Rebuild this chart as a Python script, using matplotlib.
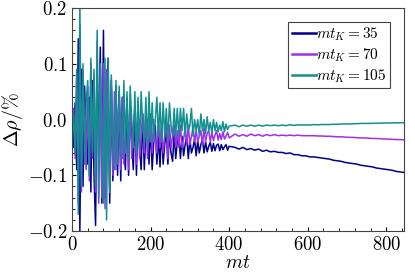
import numpy as np
import matplotlib
matplotlib.use("Agg")
import matplotlib.pyplot as plt
from matplotlib.ticker import MultipleLocator, FuncFormatter

# time grids (dense early part, coarser late part)
t_early = np.arange(0, 404, 4)
t_late = np.arange(415, 850, 10)

labels = ["$mt_K = 35$", "$mt_K = 70$", "$mt_K = 105$"]
colors = ["#00008b", "#9b30ef", "#11908f"]

# mt_K = 35
navy_early = [0.00, -0.05, 0.03, -0.09, 0.145, -0.20, 0.09, -0.12, 0.06, -0.02,
              -0.08, 0.04, -0.13, 0.07, -0.10, -0.19, 0.09, -0.05, 0.13, -0.15,
              0.16, -0.14, 0.03, 0.11, -0.15, 0.07, -0.11, -0.02, 0.06, -0.10,
              0.05, -0.11, 0.04, -0.06, -0.09, 0.04, -0.10, 0.03, -0.04, -0.09,
              0.02, -0.10, 0.01, -0.05, -0.09, 0.01, -0.09, -0.02, 0.00, -0.08,
              -0.01, -0.09, -0.04, -0.01, -0.08, -0.03, -0.085, -0.015, -0.08, -0.045,
              -0.02, -0.08, -0.025, -0.06, -0.075, -0.025, -0.07, -0.04, -0.03, -0.07,
              -0.03, -0.065, -0.045, -0.03, -0.07, -0.035, -0.06, -0.05, -0.035, -0.065,
              -0.038, -0.06, -0.045, -0.036, -0.06, -0.04, -0.058, -0.048, -0.041, -0.057,
              -0.043, -0.056, -0.046, -0.044, -0.056, -0.045, -0.054, -0.049, -0.045, -0.055,
              -0.048]
navy_late = [-0.050, -0.053, -0.050, -0.054, -0.052, -0.055, -0.053, -0.057, -0.055, -0.058,
             -0.057, -0.059, -0.059, -0.061, -0.060, -0.063, -0.063, -0.065, -0.065, -0.067,
             -0.067, -0.068, -0.069, -0.070, -0.071, -0.073, -0.074, -0.075, -0.077, -0.078,
             -0.079, -0.080, -0.082, -0.083, -0.084, -0.085, -0.087, -0.088, -0.089, -0.090,
             -0.091, -0.093, -0.094, -0.095]

# mt_K = 70
purple_early = [-0.03, 0.02, -0.07, 0.08, -0.15, 0.17, -0.13, 0.09, -0.02, -0.09,
                0.06, -0.11, 0.10, -0.07, 0.08, -0.13, 0.14, -0.15, 0.09, -0.14,
                0.10, -0.16, 0.09, -0.04, -0.13, 0.06, -0.10, 0.05, -0.09, 0.00,
                0.04, -0.09, 0.04, -0.08, -0.02, 0.03, -0.09, 0.03, -0.07, -0.01,
                0.02, -0.08, 0.02, -0.07, -0.03, 0.01, -0.06, 0.01, -0.07, -0.02,
                0.01, -0.06, 0.00, -0.04, -0.06, 0.00, -0.05, -0.01, -0.06, -0.03,
                -0.005, -0.07, -0.01, -0.05, -0.03, -0.01, -0.05, -0.02, -0.05, -0.01,
                -0.05, -0.035, -0.015, -0.045, -0.01, -0.045, -0.03, -0.015, -0.04, -0.02,
                -0.04, -0.03, -0.02, -0.045, -0.015, -0.04, -0.025, -0.02, -0.04, -0.022,
                -0.038, -0.028, -0.02, -0.037, -0.025, -0.036, -0.022, -0.035, -0.03, -0.023,
                -0.033]
purple_late = [-0.026, -0.030, -0.027, -0.030, -0.026, -0.029, -0.027, -0.030, -0.027, -0.029,
               -0.027, -0.029, -0.028, -0.029, -0.028, -0.029, -0.028, -0.029, -0.029, -0.029,
               -0.029, -0.0295, -0.0295, -0.030, -0.030, -0.0305, -0.031, -0.031, -0.0315, -0.032,
               -0.032, -0.0325, -0.033, -0.033, -0.0335, -0.034, -0.034, -0.0345, -0.035, -0.035,
               -0.0355, -0.036, -0.036, -0.0365]

# mt_K = 105
teal_early = [-0.04, 0.01, -0.06, 0.09, -0.17, 0.21, -0.12, 0.10, -0.08, 0.03,
              0.07, -0.10, 0.11, -0.06, 0.09, -0.12, 0.16, -0.14, 0.10, -0.02,
              -0.15, 0.11, -0.18, 0.11, -0.13, 0.08, -0.02, -0.09, 0.07, -0.08,
              0.06, -0.02, -0.07, 0.07, -0.06, 0.05, -0.07, 0.06, 0.00, -0.05,
              0.05, -0.06, 0.04, -0.05, 0.05, -0.01, -0.04, 0.04, -0.05, 0.05,
              -0.04, 0.03, -0.04, 0.00, 0.04, -0.03, 0.03, -0.04, 0.03, -0.03,
              0.02, -0.04, 0.03, -0.01, -0.03, 0.02, -0.03, 0.02, -0.03, 0.02,
              -0.02, 0.02, -0.03, 0.01, -0.02, -0.01, 0.02, -0.03, 0.00, -0.02,
              0.00, -0.03, 0.01, -0.02, 0.00, -0.025, 0.005, -0.02, -0.005, -0.025,
              0.00, -0.02, -0.005, -0.022, -0.01, -0.02, -0.004, -0.022, -0.008, -0.018,
              -0.012]
teal_late = [-0.010, -0.013, -0.010, -0.012, -0.010, -0.012, -0.010, -0.012, -0.010, -0.011,
             -0.010, -0.011, -0.010, -0.011, -0.0095, -0.0105, -0.0095, -0.010, -0.0095, -0.010,
             -0.009, -0.0095, -0.009, -0.009, -0.009, -0.0085, -0.0085, -0.008, -0.008, -0.008,
             -0.0075, -0.0075, -0.007, -0.007, -0.007, -0.0068, -0.0066, -0.0065, -0.0063, -0.0062,
             -0.006, -0.006, -0.0058, -0.0057]

plt.rcParams["mathtext.fontset"] = "cm"
plt.rcParams["font.family"] = "serif"
plt.rcParams["font.serif"] = ["DejaVu Serif"]

fig = plt.figure(figsize=(4.15, 2.77), dpi=100)
ax = fig.add_axes([0.1735, 0.166, 0.8, 0.805])

t = np.concatenate([t_early, t_late])
series = [navy_early + navy_late, purple_early + purple_late, teal_early + teal_late]
for y, c, lab in zip(series, colors, labels):
    ax.plot(t, y, color=c, lw=1.1, label=lab)

ax.set_xlim(0, 845)
ax.set_ylim(-0.2, 0.2)
ax.xaxis.set_major_locator(MultipleLocator(200))
ax.xaxis.set_minor_locator(MultipleLocator(40))
ax.yaxis.set_major_locator(MultipleLocator(0.1))
ax.yaxis.set_minor_locator(MultipleLocator(0.02))
ax.xaxis.set_major_formatter(FuncFormatter(lambda v, p: f"${v:.0f}$"))
ax.yaxis.set_major_formatter(FuncFormatter(lambda v, p: f"${v:.1f}$"))
ax.tick_params(which="both", direction="in", top=False, right=False, labelsize=13.5)
ax.tick_params(which="major", length=3)
ax.tick_params(which="minor", length=2)
for s in ax.spines.values():
    s.set_color("#444444")

ax.set_xlabel("$mt$", fontsize=14, labelpad=0)
ax.set_ylabel(r"$\Delta\rho/\%$", fontsize=14.5, labelpad=2)

leg = ax.legend(loc="upper right", fontsize=11, fancybox=False, framealpha=1,
                edgecolor="#444444", handlelength=1.6, handletextpad=0.0,
                labelspacing=0.2, borderpad=0.25, borderaxespad=0.9)
leg.get_frame().set_linewidth(0.8)
for h in leg.get_lines():
    h.set_linewidth(1.8)

fig.savefig("out.png", dpi=100)
